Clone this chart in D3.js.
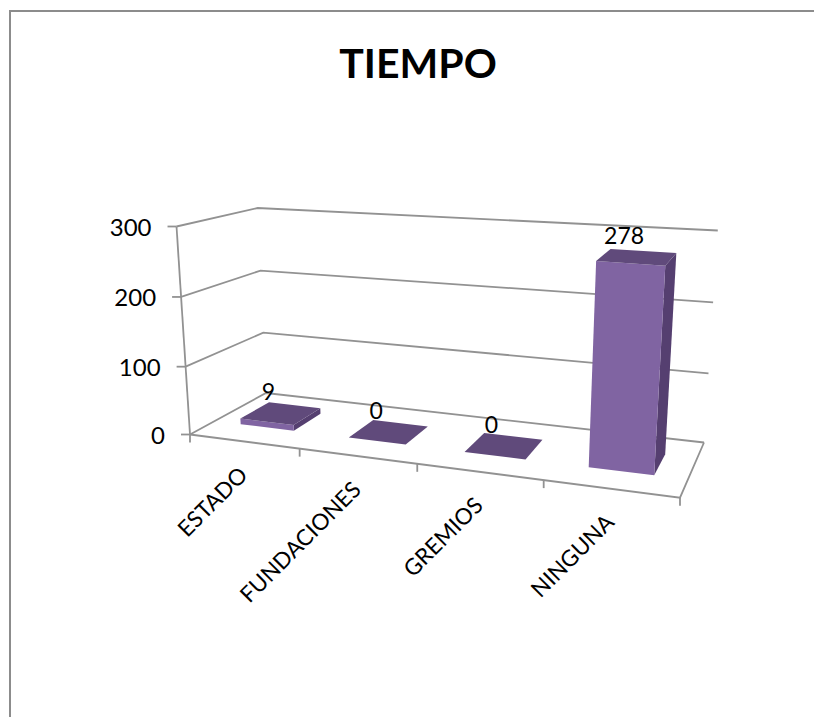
<!DOCTYPE html>
<html>
<head>
<meta charset="utf-8">
<script src="https://cdn.jsdelivr.net/npm/d3@7"></script>
<style>
  html, body { margin: 0; padding: 0; background: #fff; }
  svg { display: block; }
  text { font-family: Lato, "Open Sans", sans-serif; fill: #000; }
</style>
</head>
<body>
<svg id="chart" width="814" height="717"></svg>
<script>
const chartTitle = "TIEMPO";
const categories = ["ESTADO", "FUNDACIONES", "GREMIOS", "NINGUNA"];
const values = [9, 0, 0, 278];
const valueTicks = [0, 100, 200, 300];

const svg = d3.select("#chart");
const gridColor = "#929292";
const frontColor = "#8064a2", topColor = "#604a7b", sideColor = "#553f70";

// Outline of the chart area; it runs off the right and bottom edges of the page.
svg.append("path").attr("d", "M10,717V11H814").attr("fill", "none")
  .attr("stroke", "#8c8c8c").attr("stroke-width", 2);

svg.append("text").attr("x", 418).attr("y", 78).attr("text-anchor", "middle")
  .attr("font-size", 41).attr("font-weight", 700).text(chartTitle);

// Maps the unit square onto a quadrilateral: [front-left, front-right, back-right, back-left].
function quadProjection(q) {
  const [[x0, y0], [x1, y1], [x2, y2], [x3, y3]] = q;
  const dx1 = x1 - x2, dx2 = x3 - x2, sx = x0 - x1 + x2 - x3;
  const dy1 = y1 - y2, dy2 = y3 - y2, sy = y0 - y1 + y2 - y3;
  const den = dx1 * dy2 - dx2 * dy1;
  const g = (sx * dy2 - dx2 * sy) / den, h = (dx1 * sy - sx * dy1) / den;
  const a = x1 - x0 + g * x1, b = x3 - x0 + h * x3;
  const d = y1 - y0 + g * y1, e = y3 - y0 + h * y3;
  return (u, v) => {
    const w = g * u + h * v + 1;
    return [(a * u + b * v + x0) / w, (d * u + e * v + y0) / w];
  };
}

// Floor plane of the plot box, and the box height at each of its four corners.
const floor = quadProjection([[190, 434.5], [680, 497.7], [704, 442.5], [266, 393]]);
const cornerHeights = { fl: 208, fr: 235, br: 212, bl: 185 };
// Vertical edges of the box all lean away from this vanishing point below the chart.
const vanish = [447, 4400];

// The slight power curve stands in for the foreshortening of the value axis.
const yScale = d3.scalePow().exponent(1.02).domain([0, 300]).range([0, 1]);
const xScale = d3.scaleBand().domain(categories).range([0, 1]).paddingInner(0.5).paddingOuter(0.25);
const depth = d3.scaleLinear().domain([0, 1]).range([0.30, 0.69]);

function project(u, d, v) {
  const a = floor(u, d);
  const front = cornerHeights.fl + (cornerHeights.fr - cornerHeights.fl) * u;
  const back = cornerHeights.bl + (cornerHeights.br - cornerHeights.bl) * u;
  const rise = (front + (back - front) * d) * yScale(v);
  return [a[0] + (a[0] - vanish[0]) * rise / (vanish[1] - a[1]), a[1] - rise];
}
const line = d3.line();
const poly = pts => line(pts) + "Z";

// Back wall gridlines, side wall gridlines and the floor edge.
const grid = svg.append("g").attr("fill", "none").attr("stroke", gridColor).attr("stroke-width", 1.8);
valueTicks.forEach(v => {
  grid.append("path").attr("d", line([project(0, 0, v), project(0, 1, v), project(1, 1, v)]));
  const p = project(0, 0, v);
  grid.append("path").attr("d", line([[p[0] - 9, p[1]], p]));
  svg.append("text").attr("x", p[0] - 25).attr("y", p[1] + 1).attr("dy", "0.35em")
    .attr("text-anchor", "end").attr("font-size", 24).text(v);
});
grid.append("path").attr("d", line([project(0, 0, 0), project(0, 0, 300)]));
grid.append("path").attr("d", line([project(0, 0, 0), project(1, 0, 0), project(1, 1, 0)]));

// Category ticks hang from the front floor edge, one at each band boundary.
const step = xScale.step();
d3.range(categories.length + 1).forEach(i => {
  const p = project(i * step, 0, 0);
  grid.append("path").attr("d", line([p, [p[0], p[1] + 8]]));
});

// Bars, with the three visible faces.
const bars = svg.append("g");
categories.forEach((c, i) => {
  const u0 = xScale(c), u1 = u0 + xScale.bandwidth();
  const d0 = depth(0), d1 = depth(1), v = values[i];
  bars.append("path").attr("fill", sideColor)
    .attr("d", poly([project(u1, d0, 0), project(u1, d1, 0), project(u1, d1, v), project(u1, d0, v)]));
  bars.append("path").attr("fill", frontColor)
    .attr("d", poly([project(u0, d0, 0), project(u1, d0, 0), project(u1, d0, v), project(u0, d0, v)]));
  bars.append("path").attr("fill", topColor)
    .attr("d", poly([project(u0, d0, v), project(u1, d0, v), project(u1, d1, v), project(u0, d1, v)]));

  const top = project((u0 + u1) / 2, 0.5, v);
  svg.append("text").attr("x", top[0] - 13).attr("y", top[1] - 21).attr("dy", "0.35em")
    .attr("text-anchor", "middle").attr("font-size", 23).text(v);

  // Rotated category label, ending just under the floor edge.
  const base = project((u0 + u1) / 2, 0, 0);
  svg.append("text").attr("transform", `translate(${base[0] + 5},${base[1] + 35}) rotate(-45)`)
    .attr("text-anchor", "end").attr("font-size", 22.5).text(c);
});
</script>
</body>
</html>
